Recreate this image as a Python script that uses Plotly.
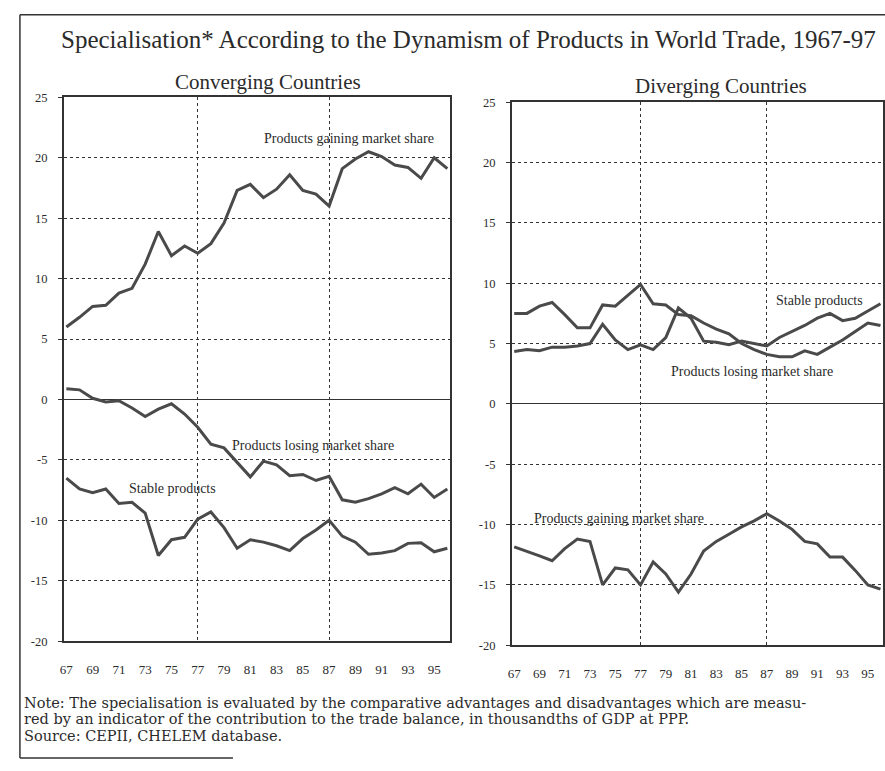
import plotly.graph_objects as go

years = list(range(67, 97))
tick_years = list(range(67, 97, 2))
tick_text = [str(y) for y in tick_years]
y_ticks = [25, 20, 15, 10, 5, 0, -5, -10, -15, -20]
y_tick_text = ["25", "20", "15", "10", "5", "0", "-5", "-10", "-15", "-20"]

conv_gaining = [6.0, 6.8, 7.7, 7.8, 8.8, 9.2, 11.2, 13.9, 11.9, 12.7, 12.1, 12.9, 14.6, 17.3, 17.8,
                16.7, 17.4, 18.6, 17.3, 17.0, 16.0, 19.1, 19.9, 20.5, 20.1, 19.4, 19.2, 18.3, 20.0, 19.1]
conv_losing = [0.9, 0.8, 0.1, -0.2, -0.1, -0.7, -1.4, -0.8, -0.35, -1.2, -2.3, -3.7, -4.0, -5.2, -6.4,
               -5.1, -5.4, -6.3, -6.2, -6.7, -6.35, -8.3, -8.5, -8.2, -7.8, -7.3, -7.8, -7.0, -8.1, -7.4]
conv_stable = [-6.5, -7.4, -7.7, -7.4, -8.6, -8.5, -9.4, -12.9, -11.6, -11.4, -9.9, -9.3, -10.6, -12.3, -11.6,
               -11.8, -12.1, -12.5, -11.5, -10.8, -10.0, -11.3, -11.8, -12.8, -12.7, -12.5, -11.9, -11.85, -12.6, -12.3]

div_stable = [4.35, 4.5, 4.4, 4.7, 4.7, 4.8, 5.0, 6.6, 5.3, 4.5, 4.9, 4.5, 5.5, 7.95, 7.1,
              5.2, 5.1, 4.9, 5.2, 5.0, 4.8, 5.5, 6.0, 6.5, 7.1, 7.5, 6.9, 7.1, 7.7, 8.3]
div_losing = [7.5, 7.5, 8.1, 8.4, 7.4, 6.3, 6.3, 8.2, 8.1, 9.0, 9.9, 8.3, 8.2, 7.4, 7.3,
              6.7, 6.2, 5.8, 5.0, 4.5, 4.1, 3.9, 3.9, 4.4, 4.1, 4.7, 5.3, 6.0, 6.7, 6.5]
div_gaining = [-11.85, -12.2, -12.6, -13.0, -12.0, -11.2, -11.4, -15.0, -13.6, -13.75, -15.0, -13.1, -14.1, -15.6, -14.1,
               -12.2, -11.4, -10.8, -10.2, -9.7, -9.1, -9.7, -10.4, -11.4, -11.6, -12.7, -12.7, -13.8, -15.0, -15.35]

title_text = "Specialisation* According to the Dynamism of Products in World Trade, 1967-97"
panel_titles = ["Converging Countries", "Diverging Countries"]
note_lines = [
    "Note: The specialisation is evaluated by the comparative advantages and disadvantages which are measu-",
    "red by an indicator of the contribution to the trade balance, in thousandths of GDP at PPP.",
    "Source: CEPII, CHELEM database.",
]

W, H = 885, 771
SERIF = "Liberation Serif, Times New Roman, serif"
NOTE_FONT = "DejaVu Serif, serif"
INK = "#2b2b2b"
LINE = "#4a4a4a"

fig = go.Figure()
series = [
    (conv_gaining, "x", "y"), (conv_losing, "x", "y"), (conv_stable, "x", "y"),
    (div_stable, "x2", "y2"), (div_losing, "x2", "y2"), (div_gaining, "x2", "y2"),
]
for vals, xa, ya in series:
    fig.add_trace(go.Scatter(x=years, y=vals, xaxis=xa, yaxis=ya, mode="lines",
                             line=dict(color=LINE, width=3), showlegend=False, hoverinfo="skip"))

def px_x(p):
    return p / W

def px_y(p):
    return 1 - p / H

axis_common = dict(showline=True, linecolor="#333", linewidth=1.5, mirror=True)
xcommon = dict(axis_common, range=[66.8, 96.2], tickmode="array", tickvals=tick_years, ticktext=tick_text,
               tickfont=dict(family=SERIF, size=13, color=INK),
               showgrid=False, zeroline=False, ticks="", ticklabelstandoff=15,
               minor=dict(tickmode="array", tickvals=[77, 87], showgrid=True, gridcolor="#333",
                          gridwidth=1, griddash="dot", ticks=""))
ycommon = dict(axis_common, range=[-20, 25], tickmode="array", tickvals=y_ticks, ticktext=y_tick_text,
               tickfont=dict(family=SERIF, size=12.5, color=INK),
               showgrid=True, gridcolor="#333", gridwidth=1, griddash="dot",
               zeroline=True, zerolinecolor="#333", zerolinewidth=1.3,
               ticks="outside", ticklen=4, tickcolor="#333", ticklabelstandoff=8)

fig.update_layout(
    width=W, height=H, margin=dict(l=0, r=0, t=0, b=0),
    paper_bgcolor="white", plot_bgcolor="white",
    xaxis=dict(xcommon, domain=[px_x(60), px_x(448)], anchor="y"),
    yaxis=dict(ycommon, domain=[px_y(646), px_y(92)], anchor="x"),
    xaxis2=dict(xcommon, domain=[px_x(510), px_x(883)], anchor="y2"),
    yaxis2=dict(ycommon, domain=[px_y(650), px_y(97)], anchor="x2"),
)

ann = []
ann.append(dict(text=title_text, x=px_x(467), y=px_y(33), xref="paper", yref="paper",
                showarrow=False, font=dict(family=SERIF, size=25, color=INK), xanchor="center", yanchor="middle"))
ann.append(dict(text=panel_titles[0], x=px_x(265), y=px_y(76), xref="paper", yref="paper",
                showarrow=False, font=dict(family=SERIF, size=21, color=INK), xanchor="center", yanchor="middle"))
ann.append(dict(text=panel_titles[1], x=px_x(720), y=px_y(80), xref="paper", yref="paper",
                showarrow=False, font=dict(family=SERIF, size=21, color=INK), xanchor="center", yanchor="middle"))
for i, t in enumerate(note_lines):
    ann.append(dict(text=t, x=px_x(18), y=px_y(709 + 16.5 * i), xref="paper", yref="paper",
                    showarrow=False, font=dict(family=NOTE_FONT, size=14.5, color=INK),
                    xanchor="left", yanchor="middle"))

labels = [
    ("Products gaining market share", 88.5, 21.6, "x", "y"),
    ("Products losing market share", 85.8, -3.8, "x", "y"),
    ("Stable products", 75.1, -7.4, "x", "y"),
    ("Stable products", 91.2, 8.6, "x2", "y2"),
    ("Products losing market share", 85.8, 2.7, "x2", "y2"),
    ("Products gaining market share", 75.3, -9.5, "x2", "y2"),
]
for t, xv, yv, xr, yr in labels:
    ann.append(dict(text=t, x=xv, y=yv, xref=xr, yref=yr, showarrow=False,
                    font=dict(family=SERIF, size=14, color=INK), xanchor="center", yanchor="middle"))
fig.update_layout(annotations=ann)

# scanned page frame
frame = dict(type="line", xref="paper", yref="paper", line=dict(color="#333", width=1.5))
fig.add_shape(frame, x0=px_x(16), x1=px_x(16), y0=px_y(8), y1=px_y(765))
fig.add_shape(frame, x0=px_x(16), x1=px_x(885), y0=px_y(8), y1=px_y(8))
fig.add_shape(frame, x0=px_x(16), x1=px_x(230), y0=px_y(765), y1=px_y(765))

fig.write_html("out.html", config={"displayModeBar": False},
               post_script="document.body.style.margin='0';document.body.style.overflow='hidden';")
